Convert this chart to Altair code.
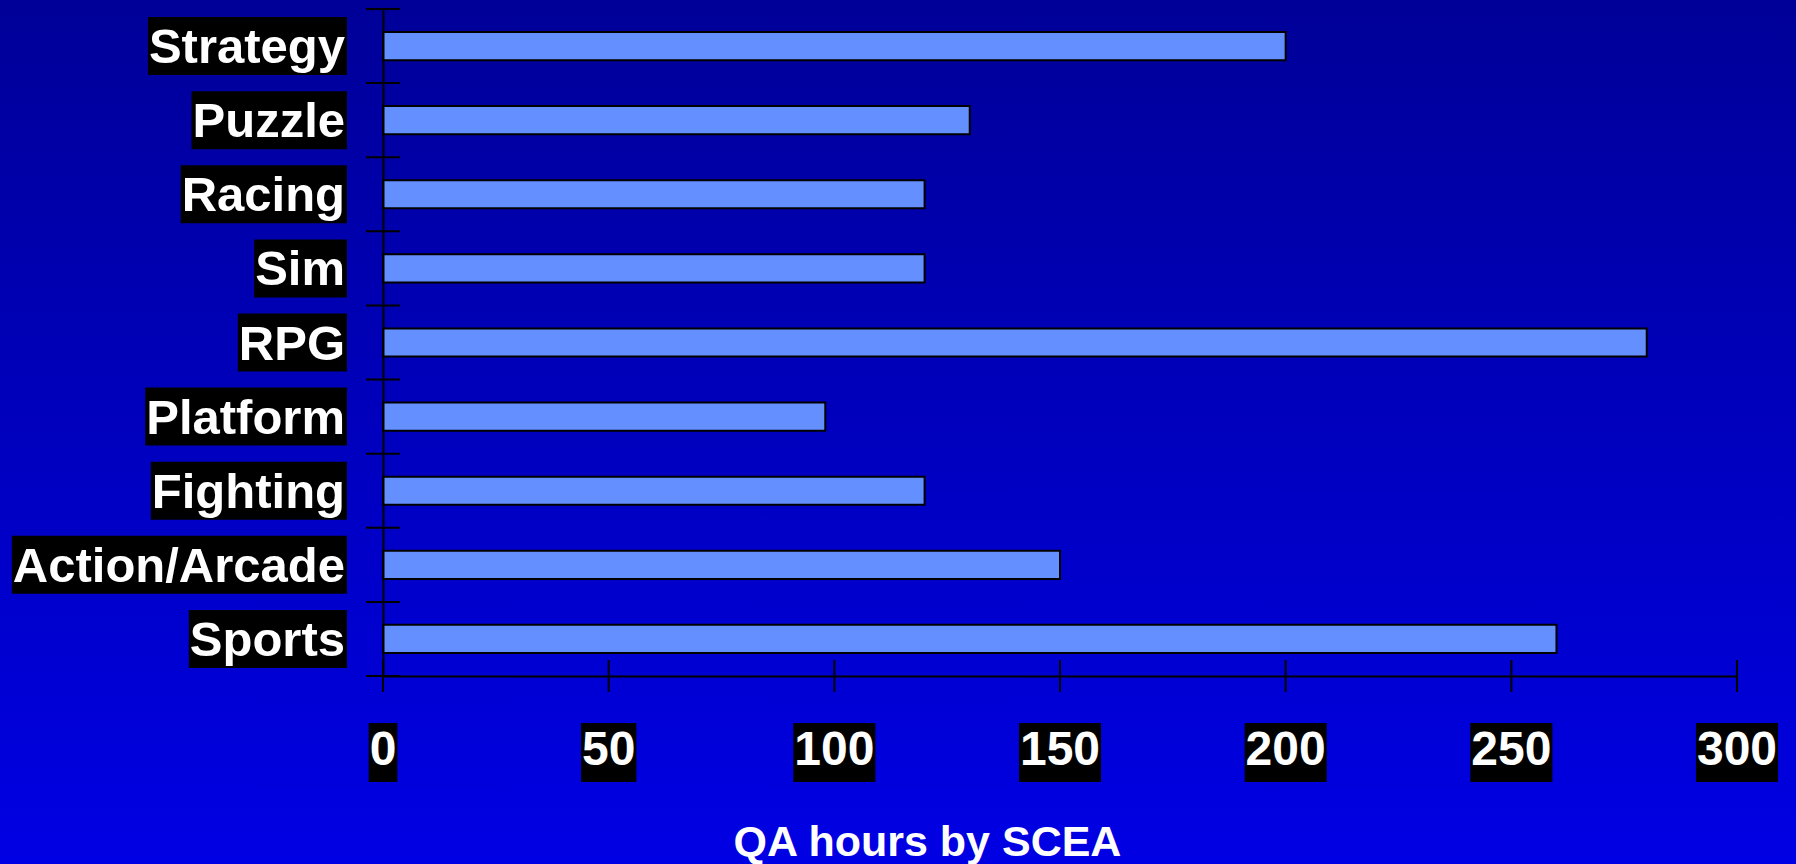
import altair as alt
import pandas as pd

# ---- data ----
categories = ["Strategy", "Puzzle", "Racing", "Sim", "RPG", "Platform",
              "Fighting", "Action/Arcade", "Sports"]
qa_hours = [200, 130, 120, 120, 280, 98, 120, 150, 260]
x_ticks = [0, 50, 100, 150, 200, 250, 300]
x_title = "QA hours by SCEA"

# ---- layout ----
W, H = 1354, 667
PAD = {"left": 383, "top": 9, "right": 59, "bottom": 188}
XMAX = 300
K = W / XMAX  # px per unit
FONT = "Liberation Sans"
FS = 49
FSX = 48

# Arial/Helvetica Bold advance widths (per 1000 em) for label boxes
AW = {"A": 722, "C": 722, "E": 667, "F": 611, "G": 778, "P": 667, "Q": 778,
      "R": 722, "S": 667, "a": 556, "b": 611, "c": 556, "d": 611, "e": 556,
      "f": 333, "g": 611, "h": 611, "i": 278, "l": 278, "m": 889, "n": 611,
      "o": 611, "p": 611, "r": 389, "s": 556, "t": 333, "u": 611, "y": 556,
      "z": 500, "/": 278, " ": 278}
for d in "0123456789":
    AW[d] = 556


def text_w(s, fs):
    return sum(AW.get(ch, 556) for ch in s) * fs / 1000.0


xscale = alt.Scale(domain=[0, XMAX], nice=False, zero=True)
yscale = alt.Scale(type="band", paddingInner=0, paddingOuter=0)
ysort = categories

bars_df = pd.DataFrame({"cat": categories, "hours": qa_hours})

LBL_GAP = 38
ylab_df = pd.DataFrame({
    "cat": categories,
    "x0": [-(LBL_GAP + text_w(c, FS) + 1) / K for c in categories],
    "x1": [-(LBL_GAP - 2) / K for c in categories],
})
xlab_df = pd.DataFrame({
    "t": x_ticks,
    "lbl": [str(t) for t in x_ticks],
    "x0": [t - (text_w(str(t), FSX) / 2 + 1) / K for t in x_ticks],
    "x1": [t + (text_w(str(t), FSX) / 2 + 1) / K for t in x_ticks],
})

Y = lambda **kw: alt.Y("cat:N", sort=ysort, scale=yscale,
                       axis=alt.Axis(labels=False, ticks=False, title=None,
                                     domain=True, domainColor="black",
                                     domainWidth=2, zindex=1), **kw)

gradient = alt.LinearGradient(
    gradient="linear",
    stops=[alt.GradientStop(color="#000098", offset=0),
           alt.GradientStop(color="#0000E4", offset=1)],
    x1=0, x2=0, y1=0, y2=1)

bg = alt.Chart(pd.DataFrame({"a": [0]})).mark_rect(color=gradient).encode(
    x=alt.value(-PAD["left"]), x2=alt.value(W + PAD["right"]),
    y=alt.value(-PAD["top"]), y2=alt.value(H + PAD["bottom"]))

ybox = alt.Chart(ylab_df).mark_bar(color="black", height=58).encode(
    x=alt.X("x0:Q", scale=xscale), x2="x1:Q", y=Y())

ytext = alt.Chart(bars_df).mark_text(
    align="right", baseline="alphabetic", dy=17, font=FONT, fontSize=FS,
    fontWeight="bold", color="white").encode(
    x=alt.value(-LBL_GAP), y=Y(), text="cat:N")

xbox = alt.Chart(xlab_df).mark_rect(color="black").encode(
    x=alt.X("x0:Q", scale=xscale), x2="x1:Q",
    y=alt.value(H + 47), y2=alt.value(H + 106))

xtext = alt.Chart(xlab_df).mark_text(
    align="center", baseline="alphabetic", font=FONT, fontSize=FSX,
    fontWeight="bold", color="white").encode(
    x=alt.X("t:Q", scale=xscale), y=alt.value(H + 89), text="lbl:N")

bars = alt.Chart(bars_df).mark_bar(
    color="#6490FF", stroke="black", strokeWidth=2, height={"band": 0.38}).encode(
    x=alt.X("hours:Q", scale=xscale,
            axis=alt.Axis(labels=False, ticks=False, grid=False, domain=True,
                          domainColor="black", domainWidth=2, zindex=1,
                          title=x_title, titleColor="white", titleFont=FONT,
                          titleFontSize=43, titleFontWeight="bold",
                          titleX=544, titleY=179, titleAlign="center",
                          titleBaseline="alphabetic")),
    y=Y())

yticks = alt.Chart(bars_df).mark_rule(color="black", strokeWidth=2).encode(
    y=Y(bandPosition=0), x=alt.value(-17), x2=alt.value(17))

yticks_end = alt.Chart(bars_df).transform_filter(
    alt.datum.cat == categories[-1]).mark_rule(color="black", strokeWidth=2).encode(
    y=Y(bandPosition=1), x=alt.value(-17), x2=alt.value(17))

xticks = alt.Chart(pd.DataFrame({"t": x_ticks})).mark_rule(
    color="black", strokeWidth=2).encode(
    x=alt.X("t:Q", scale=xscale), y=alt.value(H - 16), y2=alt.value(H + 16))

chart = alt.layer(bg, ybox, ytext, xbox, xtext, bars, yticks, yticks_end, xticks).properties(
    width=W, height=H,
    autosize=alt.AutoSizeParams(type="none"),
    padding=PAD,
    background="#0000C0",
).configure_view(stroke=None)

chart.save("out.html", embed_options={"renderer": "svg", "actions": False})
